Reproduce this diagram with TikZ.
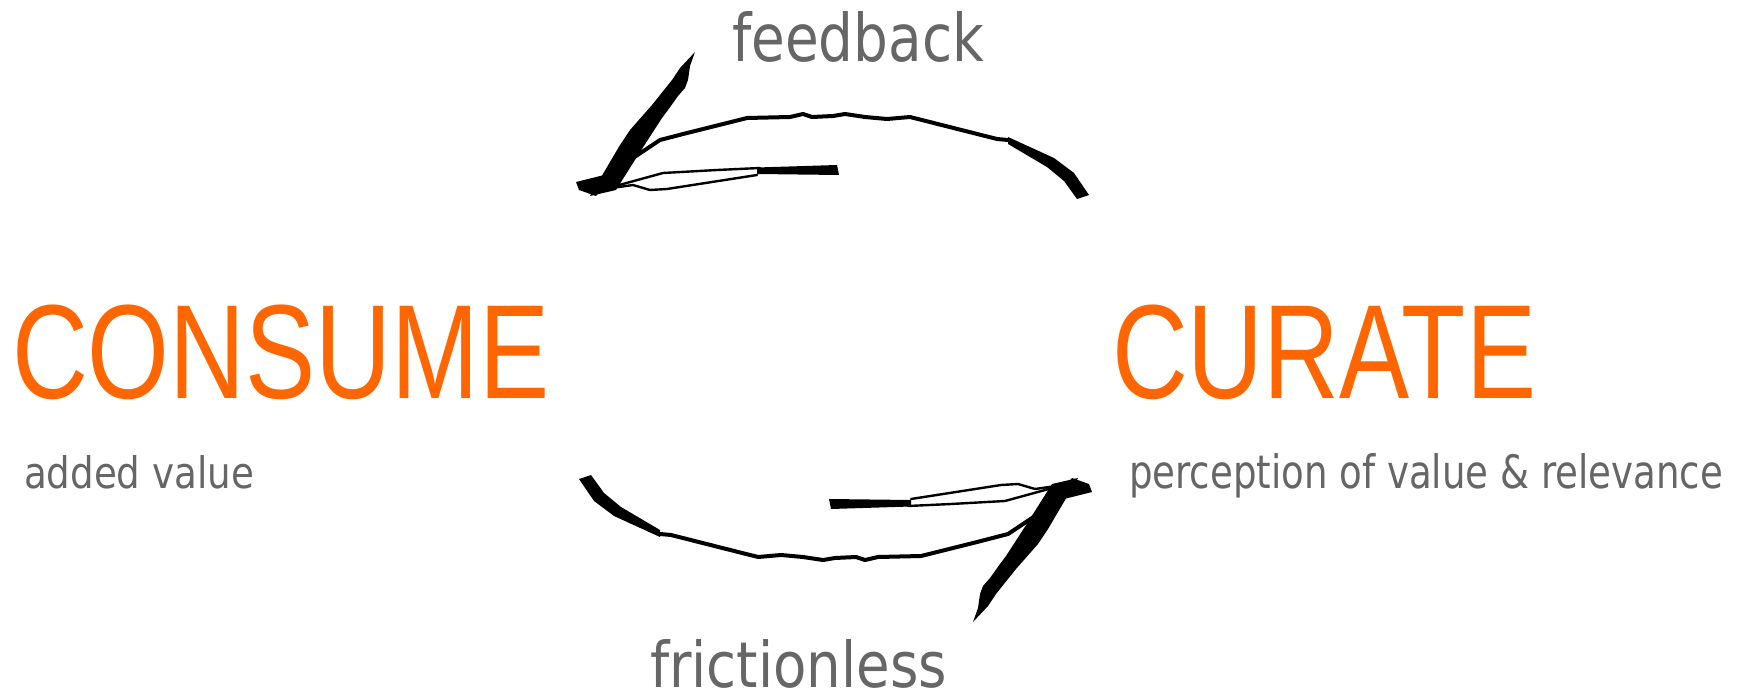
\documentclass[tikz,border=0pt]{standalone}
\usepackage{fontspec}
\setmainfont{Liberation Sans}
\newfontfamily\headfont{Liberation Sans}
\newfontfamily\grayfont{DejaVu Sans}
\definecolor{accent}{HTML}{FF6600}
\definecolor{txtgray}{HTML}{666666}
\tikzset{
  headtext/.style={anchor=base west, inner sep=0pt, outer sep=0pt, text=accent, font=\headfont},
  subtext/.style={anchor=base west, inner sep=0pt, outer sep=0pt, text=txtgray, font=\grayfont},
  inkfill/.style={fill=black, draw=none},
  inkline/.style={draw=black, line width=4pt, line join=round, line cap=round},
  thinline/.style={draw=black, line width=2.4pt, line join=round, line cap=round},
}
\newcommand{\drawsketcharrow}{%
  % arc body
  \draw[inkline] (1008,140) -- (997,139) -- (910,117) -- (887,119) -- (865,117) -- (845,114)
     -- (833,116) -- (812,117) -- (803,114) -- (790,117) -- (747,118) -- (687,133)
     -- (660,140) -- (633,158) -- (620,168);
  % thick tapered end of arc
  \fill[inkfill] (1008,137) -- (1054,158) -- (1074,173) -- (1089,195) -- (1077,199)
     -- (1064,181) -- (1047,167) -- (1008,144) -- cycle;
  % long barb
  \fill[inkfill] (590,196) -- (620,145) -- (630,130) -- (652,105) -- (672,80) -- (680,68)
     -- (695,52) -- (690,66) -- (688,80) -- (685,88) -- (678,96) -- (668,110)
     -- (662,118) -- (640,152) -- (616,190) -- cycle;
  % small stub left of the tip
  \fill[inkfill] (576,182) -- (604,175) -- (606,184) -- (596,196) -- (579,190) -- cycle;
  % lower barb: thin loop and thick end
  \draw[thinline] (612,187) -- (663,173) -- (717,170) -- (760,168);
  \draw[thinline] (612,188) -- (633,185) -- (650,190) -- (667,189) -- (757,175);
  \fill[inkfill] (757,167.5) -- (837,165) -- (839,175) -- (757,174) -- cycle;
}
\begin{document}
\begin{tikzpicture}[x=1pt,y=-1pt]
\useasboundingbox (0,0) rectangle (1747,695);
\fill[white] (0,0) rectangle (1747,695);
% headings
\node[headtext] (consume) at (12,398) {\resizebox{537pt}{93.5pt}{CONSUME}};
\node[headtext] (curate) at (1112,398) {\resizebox{424pt}{93.5pt}{CURATE}};
% sub texts
\node[subtext] (added) at (24,488) {\resizebox{230pt}{33pt}{added value}};
\node[subtext] (percep) at (1129,488) {\resizebox{594pt}{35pt}{perception of value \& relevance}};
\node[subtext] (feedback) at (732,62) {\resizebox{252pt}{50pt}{feedback}};
\node[subtext] (friction) at (650,687) {\resizebox{297pt}{48pt}{frictionless}};
% arrows
\drawsketcharrow
\begin{scope}[rotate around={180:(834,337)}]
  \drawsketcharrow
\end{scope}
\end{tikzpicture}
\end{document}
